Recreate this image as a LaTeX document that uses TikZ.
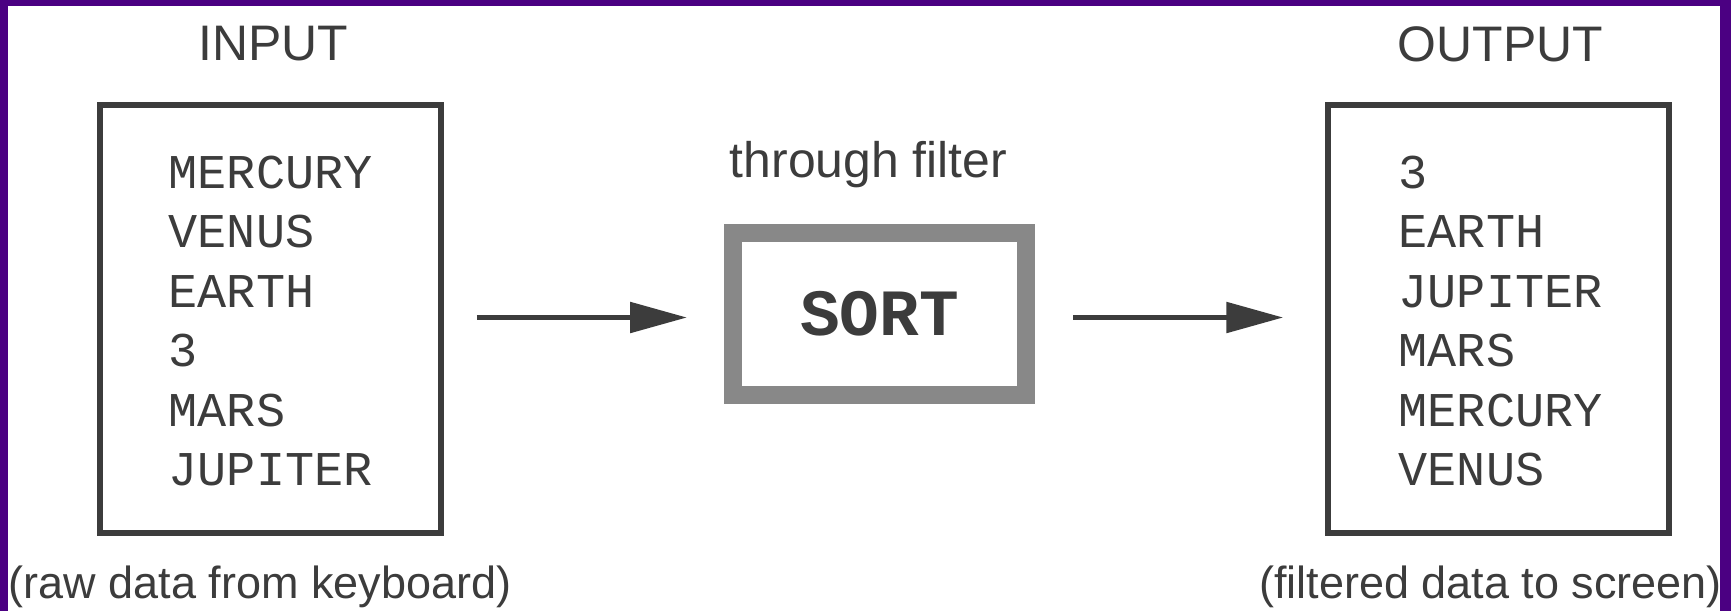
\documentclass[tikz,border=0pt]{standalone}
\usepackage{fontspec}
\setmainfont{Liberation Sans}
\setmonofont{Liberation Mono}
\usetikzlibrary{arrows.meta}
\usepackage{xcolor}

\definecolor{frameviolet}{RGB}{75,0,130}
\definecolor{inkgray}{RGB}{60,60,60}
\definecolor{filtergray}{RGB}{136,136,136}

\begin{document}
\begin{tikzpicture}[x=0.1mm, y=-0.1mm,
  heading/.style={font=\fontsize{14.2}{17}\selectfont, text=inkgray, inner sep=0, anchor=base},
  caption/.style={font=\fontsize{12.8}{15}\selectfont, text=inkgray, inner sep=0, anchor=base},
  planetbox/.style={draw=inkgray, line width=0.55mm, minimum width=34.1mm, minimum height=42.8mm, inner sep=0},
  planetline/.style={font=\fontsize{13.8}{17}\selectfont\ttfamily, text=inkgray, inner sep=0, anchor=base west},
  filterbox/.style={draw=filtergray, line width=1.8mm, minimum width=29.3mm, minimum height=16.2mm, inner sep=0,
    font=\fontsize{18.8}{22}\selectfont\ttfamily\bfseries, text=inkgray},
  flow/.style={draw=inkgray, line width=0.55mm, -{Triangle[length=5.7mm,width=3mm]}}
]

% frame
\fill[frameviolet] (0,0) rectangle (1731,611);
\fill[white] (7.5,6) rectangle (1720,611);
\useasboundingbox (0,0) rectangle (1731,611);

% boxes
\node[planetbox] (input) at (270.5,319) {};
\node[planetbox] (output) at (1498.5,319) {};
\node[filterbox] (sort) at (879.5,314) {SORT};

% texts
\node[heading] (inlabel) at (273.5,60) {INPUT};
\node[heading] (outlabel) at (1500.5,61) {OUTPUT};
\node[heading] (filterlabel) at (868.5,177) {through filter};

\node[caption] (incaption) at (260,598) {(raw data from keyboard)};
\node[caption] (outcaption) at (1490.5,598) {(filtered data to screen)};

\foreach \planet [count=\i] in {MERCURY,VENUS,EARTH,3,MARS,JUPITER}
  \node[planetline] (in\i) at (168,{188+59.5*(\i-1)}) {\planet};

\foreach \planet [count=\i] in {3,EARTH,JUPITER,MARS,MERCURY,VENUS}
  \node[planetline] (out\i) at (1398,{188+59.5*(\i-1)}) {\planet};

% arrows
\coordinate (flowline) at (0,317.5);
\draw[flow, shorten <=3.3mm, shorten >=3.7mm] (input.east |- flowline) -- (sort.west |- flowline);
\draw[flow, shorten <=3.8mm, shorten >=4.2mm] (sort.east |- flowline) -- (output.west |- flowline);

\end{tikzpicture}
\end{document}
